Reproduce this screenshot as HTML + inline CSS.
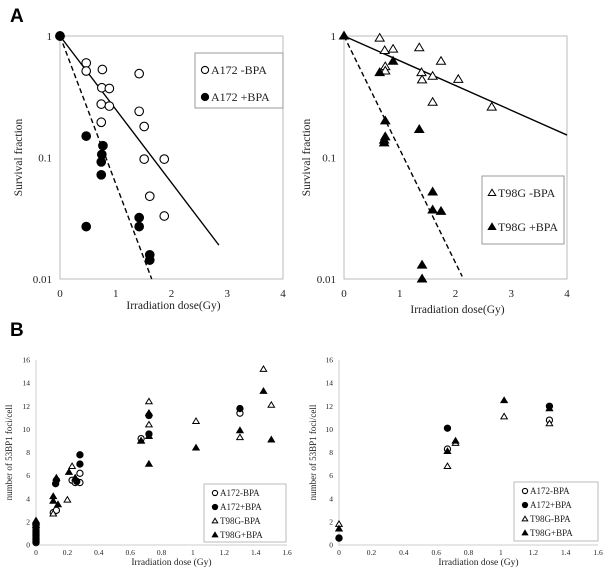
<!DOCTYPE html>
<html><head><meta charset="utf-8"><style>
html,body{margin:0;padding:0;background:#fff;}
svg{display:block;font-family:"Liberation Serif",serif;}
</style></head><body>
<svg id="fig" width="612" height="580" viewBox="0 0 612 580" xmlns="http://www.w3.org/2000/svg">
<rect x="0" y="0" width="612" height="580" fill="#fff"/>
<text x="10" y="22" font-family="Liberation Sans,sans-serif" font-weight="bold" font-size="19">A</text>
<text x="10" y="336" font-family="Liberation Sans,sans-serif" font-weight="bold" font-size="19">B</text>
</svg>
<script>
// ---- Panel A left: A172 survival ----
const a172MinusDose = [0, 0.47,0.47,0.76,0.75,0.885,0.74,0.885,0.74,1.42,1.42,1.51,1.51,1.87,1.61,1.87];
const a172MinusSF   = [1, 0.60,0.515,0.53,0.375,0.37,0.275,0.265,0.195,0.49,0.24,0.18,0.097,0.097,0.048,0.033];
const a172PlusDose  = [0, 0.47,0.77,0.75,0.74,0.74,0.47,1.42,1.42,1.61,1.61];
const a172PlusSF    = [1, 0.15,0.125,0.106,0.092,0.072,0.027,0.032,0.027,0.0158,0.0143];
const a172FitMinus = [[0,1],[2.85,0.019]];
const a172FitPlus  = [[0,1],[1.645,0.01]];
// ---- Panel A right: T98G survival ----
const t98MinusDose = [0.64,0.73,0.88,1.35,0.74,0.74,1.39,1.40,1.59,1.74,2.05,1.59,2.65];
const t98MinusSF   = [0.96,0.76,0.78,0.80,0.56,0.515,0.50,0.435,0.466,0.62,0.44,0.285,0.26];
const t98PlusDose  = [0, 0.64,0.88,0.74,0.74,0.72,0.72,1.35,1.59,1.59,1.74,1.40,1.40];
const t98PlusSF    = [1, 0.50,0.62,0.20,0.148,0.139,0.132,0.17,0.052,0.037,0.036,0.013,0.0100];
const t98FitMinus = [[0,1],[4,0.153]];
const t98FitPlus  = [[0,1],[2.12,0.0105]];
const survTicksX = [0,1,2,3,4];
const survTicksY = [1,0.1,0.01];
const survTickLabelsY = ["1","0.1","0.01"];
// ---- Panel B left: 53BP1 foci ----
const bL_A172m_x = [0,0,0,0,0,0, 0.11,0.13,0.23,0.25,0.28,0.28,0.67,1.3];
const bL_A172m_y = [0.2,0.4,0.6,0.8,1.0,1.2, 2.8,3.0,5.6,5.4,5.4,6.2,9.2,11.4];
const bL_A172p_x = [0,0,0,0,0,0,0, 0.125,0.13,0.28,0.28,0.26,0.72,0.72,1.3];
const bL_A172p_y = [0.3,0.5,0.7,0.9,1.1,1.3,1.5, 5.3,5.6,7.8,7.0,5.5,11.2,9.6,11.8];
const bL_T98m_x = [0, 0.11,0.2,0.23,0.72,0.72,1.02,1.3,1.45,1.5,0.67];
const bL_T98m_y = [2.0, 2.7,3.9,6.8,12.4,10.4,10.7,9.3,15.2,12.1,9.0];
const bL_T98p_x = [0,0,0, 0.11,0.11,0.13,0.14,0.21,0.25,0.72,0.72,0.72,1.02,1.3,1.45,1.5,0.67];
const bL_T98p_y = [1.7,1.9,2.1, 3.8,4.2,5.8,3.5,6.3,5.8,11.4,9.4,7.0,8.4,9.9,13.3,9.1,9.0];
// ---- Panel B right ----
const bR_A172m_x = [0,0.67,1.3];
const bR_A172m_y = [0.6,8.3,10.8];
const bR_A172p_x = [0,0.67,1.3];
const bR_A172p_y = [0.6,10.1,12.0];
const bR_T98m_x = [0,0.67,0.72,1.02,1.3];
const bR_T98m_y = [1.8,6.8,8.8,11.1,10.5];
const bR_T98p_x = [0,0.67,0.72,1.02,1.3];
const bR_T98p_y = [1.4,8.1,9.0,12.5,11.8];
const fociTicksX = [0,0.2,0.4,0.6,0.8,1,1.2,1.4,1.6];
const fociTickLabelsX = ["0","0.2","0.4","0.6","0.8","1","1.2","1.4","1.6"];
const fociTicksY = [0,2,4,6,8,10,12,14,16];

const NS="http://www.w3.org/2000/svg";
const svg=document.getElementById('fig');
function mk(tag,attrs,parent){const e=document.createElementNS(NS,tag);for(const k in attrs)e.setAttribute(k,attrs[k]);(parent||svg).appendChild(e);return e;}
function txt(x,y,s,size,anchor,parent){const t=mk('text',{x:x,y:y,'font-size':size,'text-anchor':anchor||'middle',fill:'#222'},parent);t.textContent=s;return t;}

function marker(g,type,cx,cy,r){
  let e;
  if(type==='oc'||type==='fc'){
    e=mk('circle',{cx:cx,cy:cy,r:r,fill:type==='fc'?'#000':'#fff',stroke:'#000','stroke-width':1.1},g);
  } else {
    const h=r*1.75,w=r*1.0;
    e=mk('polygon',{points:`${cx},${cy-h*0.6} ${cx-w*1.05},${cy+h*0.4} ${cx+w*1.05},${cy+h*0.4}`,fill:type==='ft'?'#000':'#fff',stroke:'#000','stroke-width':1},g);
  }
  return e;
}

// ===== Survival panels =====
function survPanel(name,x0,x1,yTop,yBot,series,fits,legend,titleY,ytitleX){
  const g=mk('g',{});
  
  
  const sx=d=>x0+(x1-x0)*d/4;
  const sy=v=>yTop+(yBot-yTop)*(-Math.log10(v))/2;
  const fr=mk('rect',{x:x0,y:yTop,width:x1-x0,height:yBot-yTop,fill:'none',stroke:'#bbb','stroke-width':1},g);
  
  
  survTicksX.forEach(t=>{const l=txt(sx(t),yBot+18,String(t),11,'middle',g);
    
    });
  survTicksY.forEach((t,i)=>{const l=txt(x0-8,sy(t)+4,survTickLabelsY[i],11,'end',g);
    
    });
  const xt=txt((x0+x1)/2+2,titleY,'Irradiation dose(Gy)',11.5,'middle',g);
  
  
  const yt=txt(0,0,'Survival  fraction',11.5,'middle',g);
  yt.setAttribute('transform',`translate(${ytitleX},${(yTop+yBot)/2}) rotate(-90)`);
  
  
  fits.forEach(f=>{const ln=mk('line',{x1:sx(f.p[0][0]),y1:sy(f.p[0][1]),x2:sx(f.p[1][0]),y2:sy(f.p[1][1]),stroke:'#000','stroke-width':1.4,'stroke-dasharray':f.dash?'5,3':'none'},g);
    
    });
  series.forEach(s=>{s.x.forEach((d,i)=>{const m=marker(g,s.type,sx(d),sy(s.y[i]),4.3);
    
    });});
  const lg=mk('g',{},g);
  
  
  mk('rect',{x:legend.x,y:legend.y,width:legend.w,height:legend.h,fill:'#fff',stroke:'#999','stroke-width':1},lg);
  legend.items.forEach((it,i)=>{const yy=legend.y+legend.first+i*legend.gap;
    const m=marker(lg,it.type,legend.x+10,yy-4,3.6);
    
    
    const t=txt(legend.x+16,yy,it.label,12,'start',lg);
    
    });
}
survPanel('survival-chart-a172',60,283,36,279,
 [{x:a172MinusDose,y:a172MinusSF,type:'oc',name:'a172-minus-bpa'},{x:a172PlusDose,y:a172PlusSF,type:'fc',name:'a172-plus-bpa'}],
 [{p:a172FitMinus,dash:false,name:'fit-line-a172-minus'},{p:a172FitPlus,dash:true,name:'fit-line-a172-plus'}],
 {x:195,y:53,w:88,h:55,first:21,gap:27,items:[{type:'oc',label:'A172 -BPA'},{type:'fc',label:'A172 +BPA'}]},
 309,22);
survPanel('survival-chart-t98g',344,567,36,279,
 [{x:t98MinusDose,y:t98MinusSF,type:'ot',name:'t98g-minus-bpa'},{x:t98PlusDose,y:t98PlusSF,type:'ft',name:'t98g-plus-bpa'}],
 [{p:t98FitMinus,dash:false,name:'fit-line-t98g-minus'},{p:t98FitPlus,dash:true,name:'fit-line-t98g-plus'}],
 {x:482,y:176,w:82,h:68,first:21,gap:34,items:[{type:'ot',label:'T98G -BPA'},{type:'ft',label:'T98G +BPA'}]},
 313,310);

// ===== Foci panels =====
function fociPanel(name,x0,x1,yTop,yBot,series,legend,ytitleX){
  const g=mk('g',{});
  
  
  const sx=d=>x0+(x1-x0)*d/1.6;
  const sy=v=>yBot-(yBot-yTop)*v/16;
  const ax=mk('path',{d:`M${x0},${yTop} V${yBot} H${x1}`,fill:'none',stroke:'#ccc','stroke-width':1},g);
  
  
  fociTicksX.forEach((t,i)=>{const l=txt(sx(t),yBot+10,fociTickLabelsX[i],7.5,'middle',g);
    
    });
  fociTicksY.forEach(t=>{const l=txt(x0-6,sy(t)+2.5,String(t),7.5,'end',g);
    
    });
  const xt=txt((x0+x1)/2+10,yBot+20,'Irradiation dose (Gy)',9.5,'middle',g);
  
  
  const yt=txt(0,0,'number of 53BP1 foci/cell',9,'middle',g);
  yt.setAttribute('transform',`translate(${ytitleX},${(yTop+yBot)/2}) rotate(-90)`);
  
  
  series.forEach(s=>{s.x.forEach((d,i)=>{const m=marker(g,s.type,sx(d),sy(s.y[i]),3.1);
    
    });});
  const lg=mk('g',{},g);
  
  
  mk('rect',{x:legend.x,y:legend.y,width:legend.w,height:legend.h,fill:'#fff',stroke:'#bbb','stroke-width':1},lg);
  [{type:'oc',label:'A172-BPA'},{type:'fc',label:'A172+BPA'},{type:'ot',label:'T98G-BPA'},{type:'ft',label:'T98G+BPA'}].forEach((it,i)=>{
    const yy=legend.y+12+i*14;
    const m=marker(lg,it.type,legend.x+11,yy-3,2.6);
    
    
    const t=txt(legend.x+16,yy,it.label,9,'start',lg);
    
    });
}
fociPanel('foci-chart-left',36,287,360,545,
 [{x:bL_A172m_x,y:bL_A172m_y,type:'oc',name:'a172-minus-bpa'},{x:bL_A172p_x,y:bL_A172p_y,type:'fc',name:'a172-plus-bpa'},
  {x:bL_T98m_x,y:bL_T98m_y,type:'ot',name:'t98g-minus-bpa'},{x:bL_T98p_x,y:bL_T98p_y,type:'ft',name:'t98g-plus-bpa'}],
 {x:204,y:484,w:82,h:58},12);
fociPanel('foci-chart-right',339,598,360,545,
 [{x:bR_A172m_x,y:bR_A172m_y,type:'oc',name:'a172-minus-bpa'},{x:bR_A172p_x,y:bR_A172p_y,type:'fc',name:'a172-plus-bpa'},
  {x:bR_T98m_x,y:bR_T98m_y,type:'ot',name:'t98g-minus-bpa'},{x:bR_T98p_x,y:bR_T98p_y,type:'ft',name:'t98g-plus-bpa'}],
 {x:514,y:482,w:84,h:59},316);
</script>
</body></html>
